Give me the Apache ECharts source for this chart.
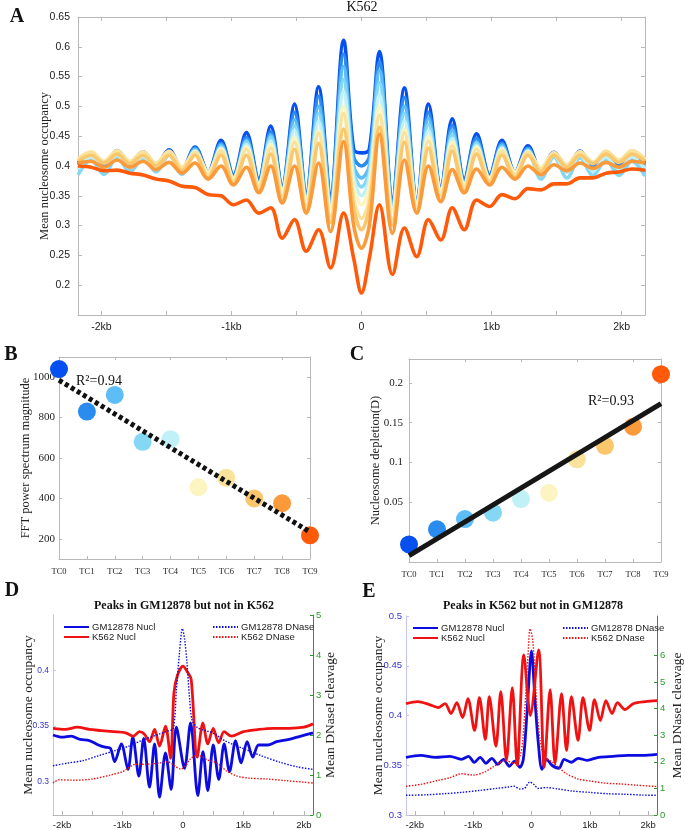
<!DOCTYPE html>
<html><head><meta charset="utf-8">
<script src="https://cdn.jsdelivr.net/npm/echarts@6/dist/echarts.min.js"></script>
<style>html,body{margin:0;padding:0;background:#fff}#c{width:685px;height:830px}</style>
</head><body><div id="c"></div>
<script>
// ---------- Panel A ----------
const A_POS = [-2180,-2080,-1980,-1880,-1780,-1680,-1580,-1480,-1380,-1280,-1180,-1080,-985,-885,-790,-698,-610,-515,-425,-330,-238,-138,-60,0,60,138,238,330,425,515,610,698,790,885,985,1080,1180,1280,1380,1480,1580,1680,1780,1880,1980,2080,2180];
const A_TC0 = [0.405,0.418,0.400,0.426,0.405,0.424,0.402,0.427,0.395,0.432,0.390,0.443,0.385,0.456,0.378,0.467,0.366,0.504,0.355,0.533,0.352,0.611,0.428,0.422,0.428,0.592,0.345,0.531,0.342,0.504,0.364,0.479,0.378,0.454,0.385,0.443,0.390,0.434,0.393,0.423,0.398,0.425,0.400,0.418,0.402,0.415,0.405];
const A_TC1 = [0.402,0.415,0.398,0.422,0.402,0.421,0.400,0.424,0.394,0.430,0.389,0.438,0.384,0.448,0.376,0.458,0.365,0.490,0.352,0.517,0.348,0.588,0.415,0.400,0.415,0.575,0.342,0.515,0.340,0.490,0.362,0.468,0.376,0.447,0.384,0.438,0.389,0.430,0.392,0.420,0.396,0.421,0.398,0.416,0.400,0.413,0.402];
const A_TC2 = [0.395,0.412,0.392,0.418,0.396,0.417,0.394,0.420,0.390,0.428,0.386,0.435,0.380,0.443,0.372,0.452,0.362,0.478,0.350,0.500,0.343,0.567,0.400,0.380,0.400,0.560,0.338,0.500,0.340,0.480,0.360,0.460,0.372,0.440,0.380,0.435,0.385,0.428,0.388,0.418,0.390,0.418,0.392,0.414,0.392,0.410,0.390];
const A_TC3 = [0.385,0.410,0.386,0.415,0.390,0.414,0.390,0.418,0.386,0.425,0.382,0.432,0.376,0.440,0.370,0.448,0.360,0.468,0.347,0.488,0.338,0.545,0.390,0.365,0.390,0.540,0.333,0.488,0.338,0.470,0.358,0.452,0.370,0.438,0.376,0.432,0.380,0.425,0.378,0.415,0.380,0.414,0.384,0.410,0.384,0.408,0.383];
const A_TC4 = [0.395,0.415,0.395,0.418,0.397,0.416,0.395,0.420,0.390,0.425,0.385,0.430,0.378,0.436,0.368,0.442,0.358,0.460,0.344,0.475,0.333,0.525,0.380,0.350,0.380,0.520,0.330,0.476,0.336,0.460,0.356,0.446,0.368,0.434,0.375,0.430,0.380,0.425,0.385,0.418,0.390,0.418,0.392,0.415,0.395,0.415,0.395];
const A_TC5 = [0.410,0.422,0.405,0.424,0.406,0.423,0.404,0.424,0.398,0.424,0.390,0.428,0.380,0.432,0.370,0.436,0.360,0.448,0.345,0.460,0.330,0.500,0.365,0.335,0.365,0.500,0.325,0.462,0.338,0.450,0.360,0.440,0.370,0.432,0.380,0.428,0.390,0.424,0.398,0.422,0.402,0.424,0.406,0.422,0.408,0.424,0.410];
const A_TC6 = [0.412,0.424,0.408,0.426,0.408,0.424,0.405,0.425,0.398,0.423,0.385,0.425,0.375,0.428,0.365,0.430,0.350,0.440,0.333,0.455,0.315,0.488,0.345,0.312,0.345,0.485,0.310,0.456,0.328,0.442,0.350,0.434,0.365,0.428,0.375,0.425,0.385,0.423,0.395,0.422,0.402,0.424,0.406,0.425,0.410,0.426,0.412];
const A_TC7 = [0.408,0.418,0.405,0.420,0.404,0.418,0.400,0.418,0.392,0.418,0.380,0.418,0.370,0.418,0.358,0.420,0.342,0.428,0.325,0.438,0.305,0.462,0.330,0.293,0.330,0.465,0.300,0.440,0.322,0.430,0.342,0.425,0.358,0.420,0.370,0.418,0.380,0.418,0.390,0.418,0.398,0.418,0.404,0.420,0.406,0.420,0.408];
const A_TC8 = [0.405,0.408,0.398,0.410,0.398,0.408,0.394,0.406,0.388,0.405,0.378,0.400,0.368,0.398,0.355,0.400,0.338,0.400,0.321,0.405,0.290,0.441,0.300,0.262,0.300,0.453,0.287,0.410,0.321,0.400,0.340,0.394,0.355,0.395,0.368,0.398,0.378,0.400,0.385,0.402,0.392,0.405,0.396,0.406,0.398,0.408,0.405];
const A_TC9 = [0.400,0.398,0.392,0.393,0.388,0.385,0.378,0.375,0.366,0.364,0.352,0.350,0.335,0.343,0.321,0.330,0.279,0.310,0.257,0.293,0.229,0.321,0.245,0.187,0.245,0.335,0.218,0.296,0.248,0.310,0.276,0.330,0.293,0.343,0.332,0.352,0.345,0.362,0.360,0.370,0.370,0.380,0.380,0.388,0.390,0.395,0.393];
const A_SERIES = [A_TC0,A_TC1,A_TC2,A_TC3,A_TC4,A_TC5,A_TC6,A_TC7,A_TC8,A_TC9];
const A_X_TICKS = [-2000,-1500,-1000,-500,0,500,1000,1500,2000];
const A_X_LABELS = [-2000,-1000,0,1000,2000];
const A_Y_TICKS = [0.2,0.25,0.3,0.35,0.4,0.45,0.5,0.55,0.6,0.65];

// ---------- Panels B & C ----------
const TC = ['TC0','TC1','TC2','TC3','TC4','TC5','TC6','TC7','TC8','TC9'];
const TC_COLORS = ['#0550ee','#2b8cf0','#5cbdf7','#85d8f4','#bff1f7','#fcf5c2','#fbe29c','#fbc76c','#fb9a3a','#ff5a0a'];
const B_VALUES = [1040,830,912,680,693,455,502,400,376,217];
const B_FIT = [985,234];
const B_Y_TICKS = [200,400,600,800,1000];
const C_VALUES = [-0.003,0.016,0.029,0.037,0.054,0.062,0.104,0.121,0.145,0.211];
const C_FIT = [-0.017,0.174];
const C_Y_TICKS = [0,0.05,0.1,0.15,0.2];
const C_Y_LABELS = [0.05,0.1,0.15,0.2];

// ---------- Panels D & E ----------
const DE_X_TICKS = [-2000,-1500,-1000,-500,0,500,1000,1500,2000];
const DE_X_LABELS = [-2000,-1000,0,1000,2000];
const D_YL_LABELS = [0.3,0.35,0.4];
const D_YR_LABELS = [0,1,2,3,4,5];
const E_YL_LABELS = [0.3,0.35,0.4,0.45,0.5];
const E_YR_LABELS = [0,1,2,3,4,5,6];

const D_GM_NUCL = [[-2150,0.342],[-2000,0.340],[-1850,0.341],[-1700,0.338],[-1550,0.337],[-1400,0.333],[-1290,0.331],[-1200,0.330],[-1130,0.318],[-1020,0.334],[-910,0.311],[-830,0.340],[-730,0.305],[-650,0.339],[-554,0.295],[-470,0.334],[-388,0.286],[-290,0.326],[-196,0.293],[-110,0.349],[25,0.312],[125,0.353],[245,0.2875],[330,0.327],[410,0.292],[500,0.333],[592,0.302],[680,0.334],[769,0.309],[870,0.337],[962,0.317],[1060,0.336],[1154,0.322],[1250,0.333],[1400,0.333],[1550,0.336],[1750,0.338],[1950,0.341],[2150,0.344]];
const D_K562_NUCL = [[-2150,0.348],[-1950,0.347],[-1750,0.349],[-1550,0.347],[-1350,0.346],[-1150,0.345],[-950,0.344],[-820,0.341],[-720,0.345],[-640,0.343],[-554,0.336],[-470,0.347],[-388,0.332],[-290,0.350],[-205,0.321],[-150,0.380],[-90,0.396],[0,0.404],[70,0.399],[135,0.392],[235,0.322],[330,0.353],[410,0.334],[500,0.348],[590,0.335],[680,0.345],[800,0.341],[1000,0.345],[1250,0.347],[1500,0.348],[1750,0.348],[2000,0.349],[2150,0.352]];
const D_GM_DNASE = [[-2150,1.23],[-1900,1.30],[-1650,1.36],[-1400,1.48],[-1100,1.62],[-900,1.72],[-670,1.87],[-400,2.02],[-250,2.10],[-160,2.16],[-110,3.10],[-57,4.08],[-10,4.66],[25,4.41],[64,3.84],[108,2.93],[152,2.36],[245,2.18],[400,2.10],[520,2.03],[700,1.85],[1000,1.66],[1300,1.48],[1600,1.32],[1900,1.20],[2150,1.14]];
const D_K562_DNASE = [[-2150,0.80],[-2050,0.88],[-1800,0.87],[-1500,0.90],[-1200,1.00],[-1000,1.08],[-950,1.13],[-780,1.27],[-600,1.27],[-400,1.30],[-250,1.33],[-130,1.22],[-40,1.15],[40,1.22],[120,1.40],[240,1.50],[400,1.38],[560,1.30],[720,1.10],[900,0.97],[1100,0.92],[1400,0.90],[1700,0.86],[2000,0.82],[2150,0.80]];

const E_GM_NUCL = [[-2150,0.358],[-1900,0.360],[-1650,0.358],[-1400,0.359],[-1200,0.356],[-1080,0.359],[-980,0.353],[-880,0.358],[-780,0.352],[-680,0.357],[-580,0.351],[-480,0.356],[-380,0.349],[-290,0.354],[-200,0.348],[-140,0.356],[-80,0.400],[0,0.465],[60,0.415],[120,0.370],[180,0.346],[260,0.356],[350,0.350],[470,0.347],[560,0.356],[680,0.353],[800,0.357],[950,0.355],[1150,0.358],[1400,0.359],[1650,0.360],[1900,0.360],[2150,0.361]];
const E_K562_NUCL = [[-2150,0.412],[-1950,0.414],[-1750,0.411],[-1600,0.408],[-1480,0.412],[-1380,0.402],[-1280,0.413],[-1180,0.398],[-1089,0.417],[-976,0.385],[-892,0.418],[-791,0.376],[-723,0.419],[-610,0.369],[-526,0.424],[-430,0.355],[-329,0.428],[-245,0.350],[-132,0.461],[-19,0.400],[122,0.466],[218,0.348],[319,0.426],[403,0.352],[515,0.422],[600,0.365],[684,0.419],[797,0.375],[882,0.418],[995,0.385],[1080,0.416],[1180,0.395],[1275,0.415],[1380,0.402],[1473,0.413],[1600,0.406],[1750,0.412],[1950,0.414],[2150,0.415]];
const E_GM_DNASE = [[-2150,0.74],[-1800,0.76],[-1500,0.80],[-1200,0.85],[-900,0.92],[-600,1.00],[-400,1.05],[-300,1.08],[-200,0.98],[-120,1.00],[-30,1.24],[40,1.15],[120,1.00],[250,1.03],[450,0.98],[700,0.90],[1000,0.85],[1300,0.80],[1600,0.78],[1900,0.75],[2150,0.74]];
const E_K562_DNASE = [[-2150,1.08],[-1900,1.15],[-1600,1.30],[-1400,1.40],[-1200,1.55],[-1000,1.50],[-800,1.62],[-650,1.82],[-450,2.05],[-300,1.95],[-200,2.20],[-150,2.80],[-100,4.50],[-60,6.00],[-25,7.00],[20,6.60],[60,5.30],[100,3.80],[150,2.80],[220,2.20],[350,2.00],[460,1.80],[600,1.55],[800,1.35],[1000,1.28],[1250,1.20],[1500,1.17],[1800,1.12],[2150,1.07]];

// ---------- styling ----------
const SERIF = '"Liberation Serif","DejaVu Serif",serif';
const SANS = '"Liberation Sans",Arial,sans-serif';
const GRAY = '#b8b8b8';
const TXT = '#222';
const NBLUE = '#0c0ce0';
const NRED = '#f01212';
const GREEN = '#2a9a2a';
const LBLUE = '#3535d0';

const kb = v => v === 0 ? '0' : (v / 1000) + 'kb';
const num = v => String(+v.toFixed(4));

function tick(color, len, custom) {
  const t = { show: true, inside: true, length: len, lineStyle: { color: color } };
  if (custom) t.customValues = custom;
  return t;
}
function xVal(grid, min, max, opts) {
  return Object.assign({
    type: 'value', gridIndex: grid, min: min, max: max,
    axisLine: { show: true, onZero: false, lineStyle: { color: GRAY } },
    axisTick: tick(GRAY, 4),
    splitLine: { show: false }
  }, opts);
}
function yVal(grid, min, max, opts) {
  return Object.assign({
    type: 'value', gridIndex: grid, min: min, max: max,
    axisLine: { show: true, onZero: false, lineStyle: { color: GRAY } },
    axisTick: tick(GRAY, 4),
    splitLine: { show: false },
    nameMoveOverlap: false
  }, opts);
}
function yName(name, gap, size) {
  return { name: name, nameLocation: 'middle', nameGap: gap, nameRotate: 90, nameMoveOverlap: false,
    nameTextStyle: { fontFamily: SERIF, fontSize: size, color: TXT } };
}

const xAxis = [
  xVal(0, -2180, 2180, { axisTick: tick(GRAY, 4, A_X_TICKS),
    axisLabel: { customValues: A_X_LABELS, formatter: kb, color: TXT, fontFamily: SANS, fontSize: 10.5, margin: 7 } }),
  xVal(0, -2180, 2180, { position: 'top', axisLabel: { show: false }, axisTick: tick(GRAY, 4, A_X_TICKS) }),
  { type: 'category', gridIndex: 1, data: TC, boundaryGap: false,
    axisLine: { show: true, onZero: false, lineStyle: { color: GRAY } },
    axisTick: tick(GRAY, 3), axisLabel: { color: TXT, fontFamily: SERIF, fontSize: 8.5, margin: 8 } },
  { type: 'category', gridIndex: 1, data: TC, boundaryGap: false, position: 'top',
    axisLine: { show: true, onZero: false, lineStyle: { color: GRAY } },
    axisTick: tick(GRAY, 3), axisLabel: { show: false } },
  { type: 'category', gridIndex: 2, data: TC, boundaryGap: false,
    axisLine: { show: true, onZero: false, lineStyle: { color: GRAY } },
    axisTick: tick(GRAY, 3), axisLabel: { color: TXT, fontFamily: SERIF, fontSize: 8.5, margin: 8 } },
  { type: 'category', gridIndex: 2, data: TC, boundaryGap: false, position: 'top',
    axisLine: { show: true, onZero: false, lineStyle: { color: GRAY } },
    axisTick: tick(GRAY, 3), axisLabel: { show: false } },
  xVal(3, -2150, 2150, { axisTick: tick(GRAY, 4, DE_X_TICKS),
    axisLabel: { customValues: DE_X_LABELS, formatter: kb, color: TXT, fontFamily: SANS, fontSize: 9.5, margin: 5 } }),
  xVal(4, -2150, 2150, { axisTick: tick(GRAY, 4, DE_X_TICKS),
    axisLabel: { customValues: DE_X_LABELS, formatter: kb, color: TXT, fontFamily: SANS, fontSize: 9.5, margin: 5 } })
];

const yAxis = [
  yVal(0, 0.15, 0.65, Object.assign({
    axisTick: tick(GRAY, 4, A_Y_TICKS),
    axisLabel: { customValues: A_Y_TICKS, formatter: num, color: TXT, fontFamily: SANS, fontSize: 10.5, margin: 8 }
  }, yName('Mean nucleosome occupancy', 27, 12.5))),
  yVal(0, 0.15, 0.65, { position: 'right', axisLabel: { show: false }, axisTick: tick(GRAY, 4, A_Y_TICKS) }),
  yVal(1, 100, 1100, Object.assign({
    axisTick: tick(GRAY, 3, B_Y_TICKS),
    axisLabel: { customValues: B_Y_TICKS, formatter: v => String(v), color: TXT, fontFamily: SERIF, fontSize: 11, margin: 4 }
  }, yName('FFT power spectrum magnitude', 27, 12.5))),
  yVal(1, 100, 1100, { position: 'right', axisLabel: { show: false }, axisTick: tick(GRAY, 3, B_Y_TICKS) }),
  yVal(2, -0.025, 0.23, Object.assign({
    axisTick: tick(GRAY, 3, C_Y_TICKS),
    axisLabel: { customValues: C_Y_LABELS, formatter: num, color: TXT, fontFamily: SERIF, fontSize: 11, margin: 6 }
  }, yName('Nucleosome depletion(D)', 27, 12.5))),
  yVal(2, -0.025, 0.23, { position: 'right', axisLabel: { show: false }, axisTick: tick(GRAY, 3, C_Y_TICKS) }),
  yVal(3, 0.27, 0.45, Object.assign({
    axisLine: { show: true, onZero: false, lineStyle: { color: '#c4c4ee' } },
    axisTick: tick('#c4c4ee', 3, D_YL_LABELS),
    axisLabel: { customValues: D_YL_LABELS, formatter: num, color: LBLUE, fontFamily: SANS, fontSize: 8.5, margin: 4 }
  }, yName('Mean nucleosome occupancy', 18, 13.5))),
  yVal(3, 0, 5, Object.assign({ position: 'right',
    axisLine: { show: true, onZero: false, lineStyle: { color: GREEN } },
    axisTick: tick(GREEN, 3, D_YR_LABELS),
    axisLabel: { customValues: D_YR_LABELS, formatter: v => String(v), color: GREEN, fontFamily: SANS, fontSize: 9.5, margin: 3 }
  }, yName('Mean DNaseI cleavage', 10, 13.5))),
  yVal(4, 0.3, 0.5, Object.assign({
    axisLine: { show: true, onZero: false, lineStyle: { color: '#c4c4ee' } },
    axisTick: tick('#c4c4ee', 3, E_YL_LABELS),
    axisLabel: { customValues: E_YL_LABELS, formatter: num, color: LBLUE, fontFamily: SANS, fontSize: 9.5, margin: 4 }
  }, yName('Mean nucleosome occupancy', 21, 13.5))),
  yVal(4, 0, 7.48, Object.assign({ position: 'right',
    axisLine: { show: true, onZero: false, lineStyle: { color: GREEN } },
    axisTick: tick(GREEN, 3, E_YR_LABELS),
    axisLabel: { customValues: E_YR_LABELS, formatter: v => String(v), color: GREEN, fontFamily: SANS, fontSize: 9.5, margin: 3 }
  }, yName('Mean DNaseI cleavage', 13, 13.5)))
];

const series = [];
A_SERIES.forEach((vals, i) => {
  series.push({ type: 'line', name: TC[i], xAxisIndex: 0, yAxisIndex: 0,
    data: A_POS.map((x, k) => [x, vals[k]]), smooth: 0.35, symbol: 'none',
    lineStyle: { color: TC_COLORS[i], width: 3.6 }, itemStyle: { color: TC_COLORS[i] }, silent: true });
});
series.push({ type: 'scatter', xAxisIndex: 2, yAxisIndex: 2, symbolSize: 18, z: 2,
  data: B_VALUES.map((v, i) => ({ value: [TC[i], v], itemStyle: { color: TC_COLORS[i], opacity: 1 } })) });
series.push({ type: 'line', xAxisIndex: 2, yAxisIndex: 2, symbol: 'none', z: 3,
  data: [[TC[0], B_FIT[0]], [TC[9], B_FIT[1]]],
  lineStyle: { color: '#111', width: 5, type: [4, 3], cap: 'butt' } });
series.push({ type: 'scatter', xAxisIndex: 4, yAxisIndex: 4, symbolSize: 18, z: 2,
  data: C_VALUES.map((v, i) => ({ value: [TC[i], v], itemStyle: { color: TC_COLORS[i], opacity: 1 } })) });
series.push({ type: 'line', xAxisIndex: 4, yAxisIndex: 4, symbol: 'none', z: 3,
  data: [[TC[0], C_FIT[0]], [TC[9], C_FIT[1]]],
  lineStyle: { color: '#161616', width: 5 } });
function deSeries(name, data, xi, yi, color, dotted) {
  return { type: 'line', name: name, xAxisIndex: xi, yAxisIndex: yi, data: data, smooth: 0.3, symbol: 'none',
    lineStyle: dotted ? { color: color, width: 1.4, type: [1.5, 1.5] } : { color: color, width: 2.8 },
    itemStyle: { color: color }, z: dotted ? 3 : 2 };
}
series.push(deSeries('GM12878 DNase', D_GM_DNASE, 6, 7, NBLUE, true));
series.push(deSeries('K562 DNase', D_K562_DNASE, 6, 7, NRED, true));
series.push(deSeries('GM12878 Nucl', D_GM_NUCL, 6, 6, NBLUE, false));
series.push(deSeries('K562 Nucl', D_K562_NUCL, 6, 6, NRED, false));
series.push(deSeries('GM12878 DNase', E_GM_DNASE, 7, 9, NBLUE, true));
series.push(deSeries('K562 DNase', E_K562_DNASE, 7, 9, NRED, true));
series.push(deSeries('GM12878 Nucl', E_GM_NUCL, 7, 8, NBLUE, false));
series.push(deSeries('K562 Nucl', E_K562_NUCL, 7, 8, NRED, false));

function leg(left, top, names) {
  return { left: left, top: top, orient: 'vertical', itemGap: 0, itemWidth: 25, itemHeight: 9, padding: 0,
    data: names, selectedMode: false, itemStyle: { opacity: 0 },
    textStyle: { fontFamily: SANS, fontSize: 9.5, color: TXT, padding: [0, 0, 0, -2] } };
}
function txt(x, y, text, font, align) {
  return { type: 'text', x: x, y: y, silent: true,
    style: { text: text, font: font, fill: '#111', align: align || 'center', verticalAlign: 'middle' } };
}

const option = {
  animation: false,
  backgroundColor: '#fff',
  grid: [
    { left: 78, top: 17, width: 567, height: 298 },
    { left: 59, top: 357, width: 251, height: 202 },
    { left: 409, top: 359, width: 252, height: 203 },
    { left: 53, top: 615, width: 260, height: 204 },
    { left: 406, top: 616, width: 256, height: 203 }
  ],
  xAxis: xAxis,
  yAxis: yAxis,
  legend: [
    leg(63, 622, ['GM12878 Nucl', 'K562 Nucl']),
    leg(212, 622, ['GM12878 DNase', 'K562 DNase']),
    leg(412, 623, ['GM12878 Nucl', 'K562 Nucl']),
    leg(562, 623, ['GM12878 DNase', 'K562 DNase'])
  ],
  series: series,
  graphic: [
    txt(362, 7, 'K562', '14px ' + SERIF),
    txt(17, 17, 'A', 'bold 20px ' + SERIF),
    txt(11, 355, 'B', 'bold 20px ' + SERIF),
    txt(357, 355, 'C', 'bold 20px ' + SERIF),
    txt(12, 591, 'D', 'bold 20px ' + SERIF),
    txt(369, 592, 'E', 'bold 20px ' + SERIF),
    txt(184, 606, 'Peaks in GM12878 but not in K562', 'bold 12px ' + SERIF),
    txt(533, 606, 'Peaks in K562 but not in GM12878', 'bold 12px ' + SERIF),
    txt(76, 381, 'R²=0.94', '14px ' + SERIF, 'left'),
    txt(588, 401, 'R²=0.93', '14px ' + SERIF, 'left')
  ]
};

const chart = echarts.init(document.getElementById('c'), null, { renderer: 'canvas' });
chart.setOption(option);
</script></body></html>
